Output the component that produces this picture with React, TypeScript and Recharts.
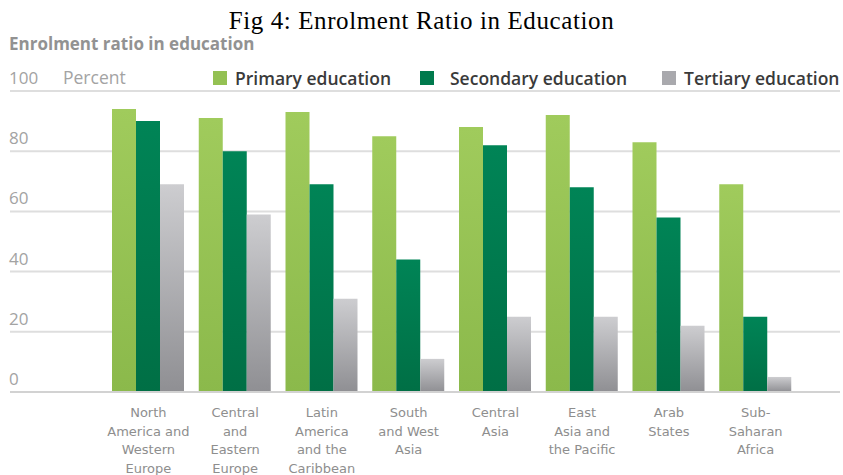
import React from "react";
import { BarChart, Bar, XAxis, YAxis, CartesianGrid, Legend } from "recharts";

const regions = [
  "North\nAmerica and\nWestern\nEurope",
  "Central\nand\nEastern\nEurope",
  "Latin\nAmerica\nand the\nCaribbean",
  "South\nand West\nAsia",
  "Central\nAsia",
  "East\nAsia and\nthe Pacific",
  "Arab\nStates",
  "Sub-\nSaharan\nAfrica",
];
const primary = [94, 91, 93, 85, 88, 92, 83, 69];
const secondary = [90, 80, 69, 44, 82, 68, 58, 25];
const tertiary = [69, 59, 31, 11, 25, 25, 22, 5];
const yTicks = [0, 20, 40, 60, 80, 100];

const seriesNames = ["Primary education", "Secondary education", "Tertiary education"];
const legendColors = ["#94c153", "#007a4d", "#a9a9ad"];
const legendLefts = [213, 420, 662];

const data = regions.map((region, i) => ({
  region,
  primary: primary[i],
  secondary: secondary[i],
  tertiary: tertiary[i],
}));

const YTick = (props: any) => {
  const { y, payload } = props;
  return (
    <g>
      <text x={9} y={y - 7} fontSize={17} fill="#a3a3a3" fontFamily="Open Sans">
        {payload.value}
      </text>
      {payload.value === 100 && (
        <text x={63} y={y - 7} fontSize={17.5} fill="#a3a3a3" fontFamily="Open Sans">
          Percent
        </text>
      )}
    </g>
  );
};

const XTick = (props: any) => {
  const { x, payload } = props;
  const lines = String(payload.value).split("\n");
  return (
    <text x={x} y={417} textAnchor="middle" fontSize={13} fill="#8e8e8e" fontFamily="DejaVu Sans">
      {lines.map((l, i) => (
        <tspan key={i} x={x} y={417 + i * 18.5}>
          {l}
        </tspan>
      ))}
    </text>
  );
};

const LegendContent = () => (
  <div style={{ position: "relative", width: 843, height: 26 }}>
    {seriesNames.map((name, i) => (
      <div
        key={name}
        style={{
          position: "absolute",
          left: legendLefts[i],
          top: 0,
          display: "flex",
          alignItems: "center",
          height: 26,
          fontFamily: "Open Sans",
          fontWeight: 600,
          fontSize: 17.5,
          color: "#3a3a3a",
          whiteSpace: "nowrap",
        }}
      >
        <span
          style={{
            display: "inline-block",
            width: 14,
            height: 14,
            background: legendColors[i],
            marginRight: i === 1 ? 16 : 8,
          }}
        />
        {name}
      </div>
    ))}
  </div>
);

export default function App() {
  return (
    <div
      style={{
        position: "absolute",
        left: 0,
        top: 0,
        width: 843,
        height: 475,
        background: "#fff",
        overflow: "hidden",
      }}
    >
      <div
        style={{
          position: "absolute",
          top: 8,
          left: 0,
          width: 843,
          textAlign: "center",
          fontFamily: "Liberation Serif",
          fontSize: 25,
          lineHeight: "25px",
          letterSpacing: 0.6,
          color: "#000",
        }}
      >
        Fig 4: Enrolment Ratio in Education
      </div>
      <div
        style={{
          position: "absolute",
          top: 35,
          left: 9,
          fontFamily: "Open Sans",
          fontWeight: 700,
          fontSize: 17,
          lineHeight: "17px",
          color: "#929292",
        }}
      >
        Enrolment ratio in education
      </div>
      <BarChart
        width={843}
        height={475}
        data={data}
        margin={{ top: 91, right: 3, bottom: 0, left: 9 }}
        barGap={0}
        barCategoryGap={0}
      >
        <defs>
          <linearGradient id="gPrimary" x1="0" y1="0" x2="0" y2="1">
            <stop offset="0%" stopColor="#a0cb5c" />
            <stop offset="100%" stopColor="#8bb94b" />
          </linearGradient>
          <linearGradient id="gSecondary" x1="0" y1="0" x2="0" y2="1">
            <stop offset="0%" stopColor="#008456" />
            <stop offset="100%" stopColor="#006f45" />
          </linearGradient>
          <linearGradient id="gTertiary" x1="0" y1="0" x2="0" y2="1">
            <stop offset="0%" stopColor="#cdcdd0" />
            <stop offset="100%" stopColor="#8f8f93" />
          </linearGradient>
        </defs>
        <CartesianGrid vertical={false} stroke="#dedede" strokeWidth={2} />
        <XAxis
          dataKey="region"
          height={83}
          padding={{ left: 95, right: 41 }}
          axisLine={{ stroke: "#d2d2d2", strokeWidth: 2 }}
          tickLine={false}
          tick={<XTick />}
          interval={0}
        />
        <YAxis
          width={1}
          domain={[0, 100]}
          ticks={yTicks}
          interval={0}
          axisLine={false}
          tickLine={false}
          tick={<YTick />}
        />
        <Legend
          layout="horizontal"
          verticalAlign="middle"
          align="center"
          wrapperStyle={{ top: 65, left: 0, width: 843 }}
          content={<LegendContent />}
        />
        <Bar dataKey="primary" name={seriesNames[0]} fill="url(#gPrimary)" barSize={24} isAnimationActive={false} />
        <Bar dataKey="secondary" name={seriesNames[1]} fill="url(#gSecondary)" barSize={24} isAnimationActive={false} />
        <Bar dataKey="tertiary" name={seriesNames[2]} fill="url(#gTertiary)" barSize={24} isAnimationActive={false} />
      </BarChart>
    </div>
  );
}
